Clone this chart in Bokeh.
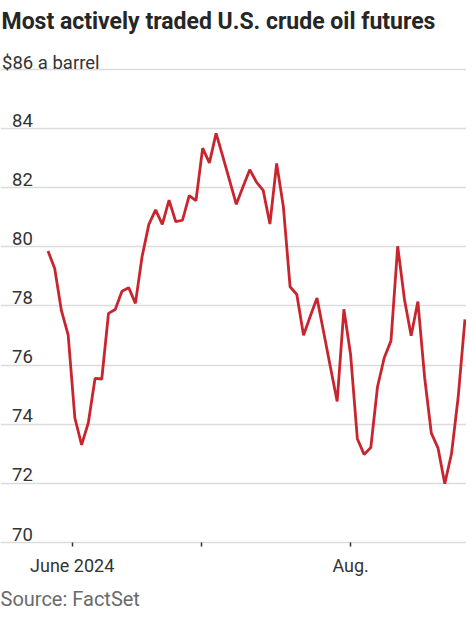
import pandas as pd
from bokeh.plotting import figure
from bokeh.models import Range1d, FixedTicker, Title, ColumnDataSource
from bokeh.core.properties import value
from bokeh.embed import file_html
from bokeh.resources import INLINE

# Trading days from 28 May to 26 Aug 2024 (NYMEX closed 19 June and 4 July)
holidays = ["2024-06-19", "2024-07-04"]
dates = [d for d in pd.bdate_range("2024-05-28", "2024-08-26")
         if d.strftime("%Y-%m-%d") not in holidays]

# Settlement prices, $ a barrel
prices = [
    79.86, 79.27, 77.84, 77.02, 74.21, 73.30, 74.05, 75.55, 75.53, 77.75,
    77.88, 78.50, 78.62, 78.09, 79.68, 80.76, 81.25, 80.76, 81.58, 80.85,
    80.90, 81.73, 81.56, 83.34, 82.84, 83.84, 83.05, 82.25, 81.44, 82.03,
    82.61, 82.19, 81.91, 80.77, 82.82, 81.36, 78.65, 78.39, 77.01, 77.65,
    78.27, 77.10, 75.93, 74.77, 77.89, 76.35, 73.51, 72.98, 73.21, 75.27,
    76.25, 76.82, 80.02, 78.23, 76.99, 78.15, 75.59, 73.70, 73.19, 71.99,
    73.00, 74.93, 77.55,
]

# Month boundaries on the trading-day axis
month_ticks = [3.6, 22.8, 45.0]
month_labels = ["June 2024", "", "Aug."]

y_ticks = [70, 72, 74, 76, 78, 80, 82, 84, 86]
y_labels = ["70", "72", "74", "76", "78", "80", "82", "84", "$86 a barrel"]

title_text = "Most actively traded U.S. crude oil futures"
source_text = "Source: FactSet"

FONT = "Roboto"
DARK = "#333333"
RED = "#c9252f"
GRID = "#dcdcdc"

W, H = 466, 616
FRAME_BOTTOM_PAD = 66           # room for the date axis and the source line
n = min(len(dates), len(prices))
src = ColumnDataSource(dict(i=list(range(n)), date=dates[:n], price=prices[:n]))

x_range = Range1d(-7.06, 62.23)
y_range = Range1d(70, 88.333)

px_x = W / (x_range.end - x_range.start)                      # pixels per trading day
px_y = (H - FRAME_BOTTOM_PAD) / (y_range.end - y_range.start)  # pixels per dollar

p = figure(width=W, height=H, x_range=x_range, y_range=y_range,
           output_backend="svg", toolbar_location=None, y_axis_location=None,
           min_border_left=0, min_border_right=0, min_border_top=0,
           min_border_bottom=FRAME_BOTTOM_PAD)
p.outline_line_color = None
p.background_fill_color = "white"
p.border_fill_color = "white"

# grid
p.xgrid.visible = False
p.ygrid.ticker = FixedTicker(ticks=y_ticks)
p.ygrid.grid_line_color = GRID
p.ygrid.grid_line_width = 1.4

# x axis
ax = p.xaxis[0]
ax.ticker = FixedTicker(ticks=month_ticks)
ax.major_label_overrides = {t: l for t, l in zip(month_ticks, month_labels)}
ax.axis_line_color = GRID
ax.axis_line_width = 1.4
ax.major_tick_line_color = DARK
ax.major_tick_line_width = 1.5
ax.major_tick_in = 0
ax.major_tick_out = 4
ax.minor_tick_line_color = None
ax.major_label_text_font = FONT
ax.major_label_text_font_size = "18px"
ax.major_label_text_color = DARK
ax.major_label_standoff = 8

# the series
p.line(x="i", y="price", source=src, line_color=RED, line_width=2.8)

# y tick labels, sitting just above their gridlines
p.text(x=[x_range.start + 11.5 / px_x] * (len(y_ticks) - 1),
       y=[t + 8.5 / px_y for t in y_ticks[:-1]], text=y_labels[:-1],
       text_baseline="alphabetic", text_align="left", text_line_height=1.0,
       text_font=value(FONT), text_font_size="18.5px", text_color=DARK)
p.text(x=[x_range.start + 1.5 / px_x], y=[y_ticks[-1] + 7.0 / px_y],
       text=[y_labels[-1]], text_baseline="alphabetic", text_align="left",
       text_line_height=1.0,
       text_font=value(FONT), text_font_size="18.5px", text_color=DARK)

# headline
p.text(x=[x_range.start + 1.0 / px_x], y=[y_range.end - 21.0 / px_y],
       text=[title_text], text_baseline="alphabetic", text_align="left",
       text_line_height=1.0,
       text_font=value(FONT), text_font_size="23px", text_font_style="bold",
       text_color="#262626")

# source line
p.add_layout(Title(text=source_text, align="left", offset=0, standoff=12,
                   text_font=FONT, text_font_size="20px",
                   text_font_style="normal", text_color="#6a6a6a"), "below")

open("out.html", "w").write(file_html(p, INLINE))
